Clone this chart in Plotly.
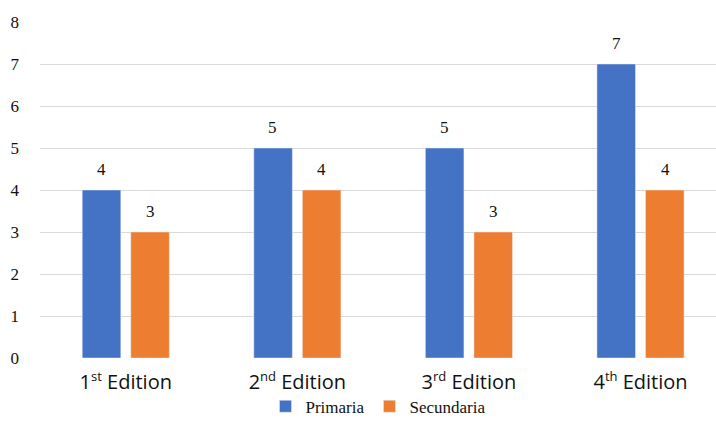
import plotly.graph_objects as go

# Participation counts per edition
ordinals = ["st", "nd", "rd", "th"]
editions = [f"{i + 1}<sup><span style='font-size:13px'>{o}</span></sup> Edition"
            for i, o in enumerate(ordinals)]
primaria = [4, 5, 5, 7]
secundaria = [3, 4, 3, 4]

BLUE = "#4472C4"
ORANGE = "#ED7D31"
SERIF = "Liberation Serif"
SANS = "Open Sans"
INK = "#111"

series = [("Primaria", primaria, BLUE, -24.5),
          ("Secundaria", secundaria, ORANGE, 24.5)]

fig = go.Figure()
for name, vals, color, _ in series:
    fig.add_trace(go.Bar(name=name, x=editions, y=vals, marker_color=color))

# value labels above each bar
for name, vals, color, dx in series:
    for cat, v in zip(editions, vals):
        fig.add_annotation(x=cat, y=v, text=str(v), showarrow=False,
                           xshift=dx, yshift=9, yanchor="bottom",
                           font=dict(family=SERIF, size=17, color=INK))

# hide the baseline gridline under the category area
fig.add_shape(type="rect", xref="paper", yref="y",
              x0=0.053, x1=0.969, y0=-0.06, y1=0.06,
              fillcolor="white", line_width=0, layer="between")

fig.update_layout(
    width=716, height=427,
    margin=dict(l=40, r=0, t=22, b=69, autoexpand=False),
    paper_bgcolor="white", plot_bgcolor="white",
    barmode="group", bargap=0.434, bargroupgap=0.206,
    showlegend=True,
    legend=dict(orientation="h", x=0.50, xanchor="center", y=-0.145,
                yanchor="middle", font=dict(family=SERIF, size=17, color=INK),
                itemwidth=30, traceorder="normal"),
    xaxis=dict(range=[-0.5, 3.44], showgrid=False, showline=False,
               automargin=False,
               tickfont=dict(family=SANS, size=20, color=INK),
               ticklabelstandoff=10),
    yaxis=dict(range=[0, 8], dtick=1, showgrid=True, gridcolor="#d9d9d9",
               gridwidth=1, zeroline=False, showline=False, automargin=False,
               tickfont=dict(family=SERIF, size=17, color=INK),
               ticklabelstandoff=20),
)

fig.write_html("out.html")
